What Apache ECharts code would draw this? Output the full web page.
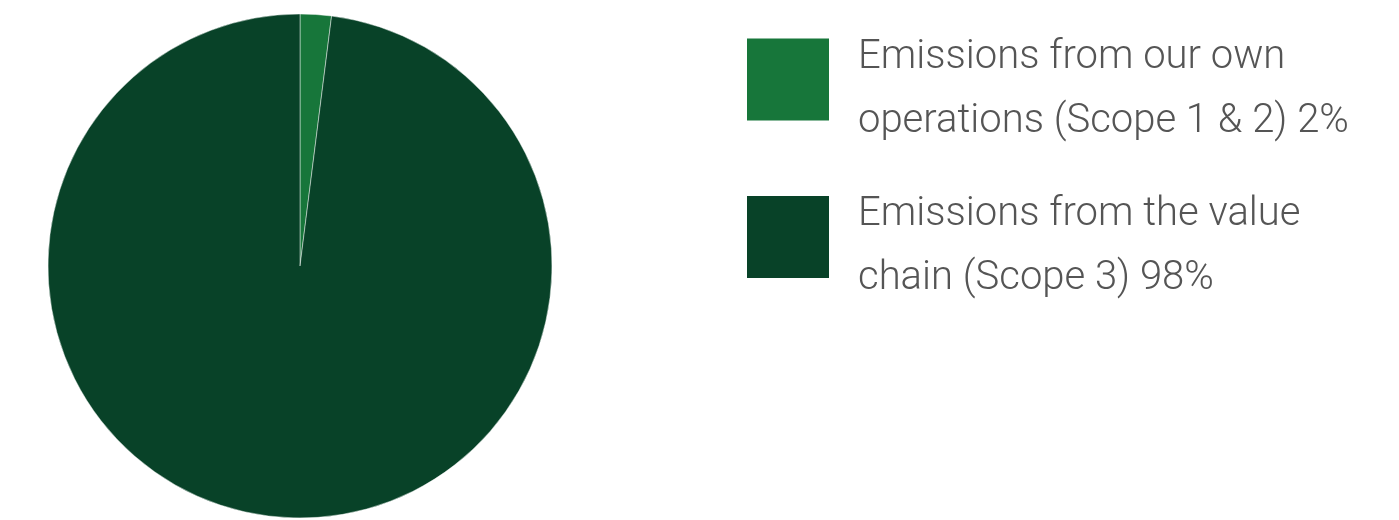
<!DOCTYPE html>
<html><head><meta charset="utf-8">
<script src="https://cdn.jsdelivr.net/npm/echarts@6/dist/echarts.min.js"></script>
<style>html,body{margin:0;padding:0;background:#fff}#c{width:1399px;height:520px}</style>
</head><body><div id="c"></div>
<script>
const categories = ['Scope 1 & 2', 'Scope 3'];
const labelLines = [
  ['Emissions from our own', 'operations (Scope 1 & 2) 2%'],
  ['Emissions from the value', 'chain (Scope 3) 98%']
];
const values = [2, 98];
const colors = ['#17763a', '#084228'];

const chart = echarts.init(document.getElementById('c'), null, {renderer: 'canvas'});
chart.setOption({
  animation: false,
  legend: {
    orient: 'vertical',
    left: 747, top: 15,
    padding: 0,
    icon: 'rect',
    itemWidth: 82, itemHeight: 82,
    itemGap: 31,
    selectedMode: false,
    data: categories,
    itemStyle: {borderWidth: 0},
    formatter: function (name) {
      const i = categories.indexOf(name);
      return '{s| }\n' + labelLines[i].map(l => '{t|' + l + '}').join('\n');
    },
    textStyle: {
      color: '#555555',
      rich: {
        s: {fontSize: 1, lineHeight: 20},
        t: {fontFamily: 'Roboto', fontWeight: 300, fontSize: 40, color: '#555555', lineHeight: 64, padding: [0, 0, 0, 24]}
      }
    }
  },
  series: [{
    type: 'pie',
    center: [300, 266],
    radius: [0, 252],
    startAngle: 90,
    clockwise: true,
    label: {show: false},
    labelLine: {show: false},
    emphasis: {disabled: true},
    itemStyle: {borderColor: 'rgba(255,255,255,0.45)', borderWidth: 1},
    data: categories.map((n, i) => ({name: n, value: values[i], itemStyle: {color: colors[i]}}))
  }]
});
</script></body></html>
